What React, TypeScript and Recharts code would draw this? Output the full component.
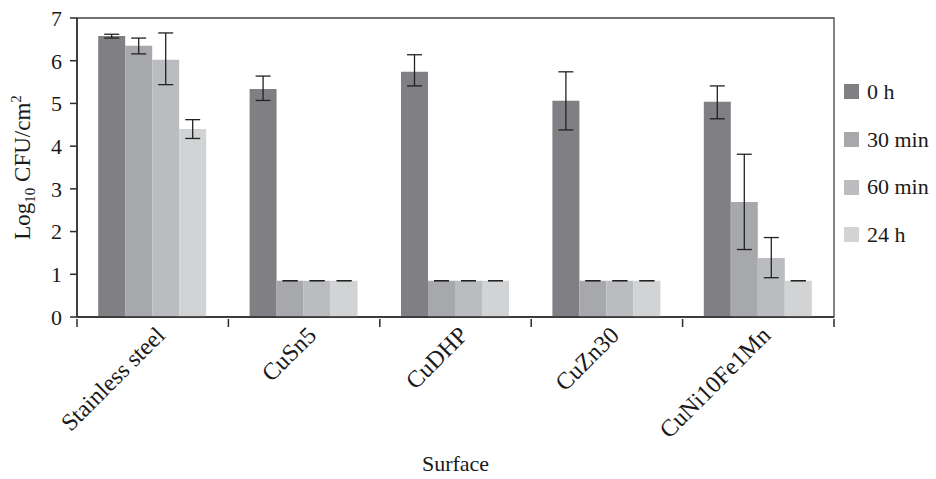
import React from "react";
import { BarChart, Bar, XAxis, YAxis, ErrorBar, ReferenceArea } from "recharts";

const categories = ["Stainless steel", "CuSn5", "CuDHP", "CuZn30", "CuNi10Fe1Mn"];
const seriesNames = ["0 h", "30 min", "60 min", "24 h"];
const seriesColors = ["#808084", "#a7a8ac", "#bbbcc0", "#d2d3d5"];
const h0 = [6.58, 5.34, 5.74, 5.06, 5.04];
const m30 = [6.35, 0.85, 0.85, 0.85, 2.69];
const m60 = [6.02, 0.85, 0.85, 0.85, 1.38];
const h24 = [4.4, 0.85, 0.85, 0.85, 0.85];
const h0Err = [[0.05, 0.04], [0.27, 0.3], [0.33, 0.4], [0.68, 0.68], [0.4, 0.37]];
const m30Err = [[0.19, 0.18], [0, 0], [0, 0], [0, 0], [1.11, 1.12]];
const m60Err = [[0.58, 0.63], [0, 0], [0, 0], [0, 0], [0.46, 0.48]];
const h24Err = [[0.22, 0.22], [0, 0], [0, 0], [0, 0], [0, 0]];
const yTicks = [0, 1, 2, 3, 4, 5, 6, 7];

const data = categories.map((c, i) => ({
  name: c,
  s0: h0[i],
  s1: m30[i],
  s2: m60[i],
  s3: h24[i],
  e0: h0Err[i],
  e1: m30Err[i],
  e2: m60Err[i],
  e3: h24Err[i],
}));

const FONT = "'Liberation Serif', 'Times New Roman', Times, serif";
const AXIS = "#2a2a2a";
const TEXT = "#1a1a1a";
const PLOT_LEFT = 77;
const PLOT_RIGHT_MARGIN = 102;
const CHART_W = 936;
const HALF_BAND = (CHART_W - PLOT_LEFT - PLOT_RIGHT_MARGIN) / categories.length / 2;

const XTick = (props: any) => {
  const { x, y, payload, index } = props;
  const half = payload && payload.offset ? payload.offset : HALF_BAND;
  const axisY = y - 8;
  return (
    <g>
      <line x1={x - half} x2={x - half} y1={axisY} y2={axisY + 8} stroke={AXIS} strokeWidth={1.5} />
      {index === categories.length - 1 && (
        <line x1={x + half} x2={x + half} y1={axisY} y2={axisY + 8} stroke={AXIS} strokeWidth={1.5} />
      )}
      <g transform={`translate(${x + 8},${y + 4})`}>
        <text
          transform="rotate(-45)"
          textAnchor="end"
          fontFamily={FONT}
          fontSize={24}
          fill={TEXT}
          dy={8}
        >
          {payload.value}
        </text>
      </g>
    </g>
  );
};

const YLabel = (props: any) => {
  const { viewBox } = props;
  const cy = viewBox.y + viewBox.height / 2;
  const cx = 30;
  return (
    <text
      transform={`translate(${cx},${cy}) rotate(-90)`}
      textAnchor="middle"
      fontFamily={FONT}
      fontSize={23}
      fill={TEXT}
    >
      Log
      <tspan fontSize={15} dy={5}>10</tspan>
      <tspan dy={-5}> CFU/cm</tspan>
      <tspan fontSize={15} dy={-9}>2</tspan>
    </text>
  );
};

export default function App() {
  const errs = ["e0", "e1", "e2", "e3"];
  return (
    <div style={{ position: "absolute", left: 0, top: 0, width: 936, height: 479, background: "#fff" }}>
      <BarChart
        width={936}
        height={479}
        data={data}
        margin={{ top: 18, right: PLOT_RIGHT_MARGIN, left: 0, bottom: 0 }}
        barGap={0}
        barCategoryGap="14%"
      >
        <XAxis
          dataKey="name"
          height={162}
          axisLine={{ stroke: AXIS, strokeWidth: 1.5 }}
          tickLine={false}
          tickSize={8}
          interval={0}
          tick={<XTick />}
          label={{
            value: "Surface",
            position: "insideBottom",
            offset: 8,
            fontFamily: FONT,
            fontSize: 22,
            fill: TEXT,
          }}
        />
        <YAxis
          domain={[0, 7]}
          ticks={yTicks}
          width={PLOT_LEFT}
          tickSize={7}
          tickMargin={8}
          stroke={AXIS}
          axisLine={{ stroke: AXIS, strokeWidth: 1.5 }}
          tickLine={{ stroke: AXIS, strokeWidth: 1.5 }}
          tick={{ fontFamily: FONT, fontSize: 22, fill: TEXT }}
          label={<YLabel />}
        />
        <ReferenceArea
          x1={categories[0]}
          x2={categories[categories.length - 1]}
          y1={0}
          y2={7}
          fill="none"
          fillOpacity={0}
          stroke="#444"
          strokeWidth={1.3}
          ifOverflow="visible"
        />
        {seriesNames.map((n, i) => (
          <Bar
            key={n}
            dataKey={`s${i}`}
            name={n}
            fill={seriesColors[i]}
            isAnimationActive={false}
          >
            <ErrorBar dataKey={errs[i]} width={7.5} stroke="#222" strokeWidth={1.3} />
          </Bar>
        ))}
      </BarChart>
      <div
        style={{
          position: "absolute",
          left: 844,
          top: 68,
          fontFamily: FONT,
          fontSize: 22,
          color: TEXT,
        }}
      >
        {seriesNames.map((n, i) => (
          <div key={n} style={{ display: "flex", alignItems: "center", height: 47.7 }}>
            <div style={{ width: 15, height: 15, background: seriesColors[i], marginRight: 8 }} />
            <span>{n}</span>
          </div>
        ))}
      </div>
    </div>
  );
}
